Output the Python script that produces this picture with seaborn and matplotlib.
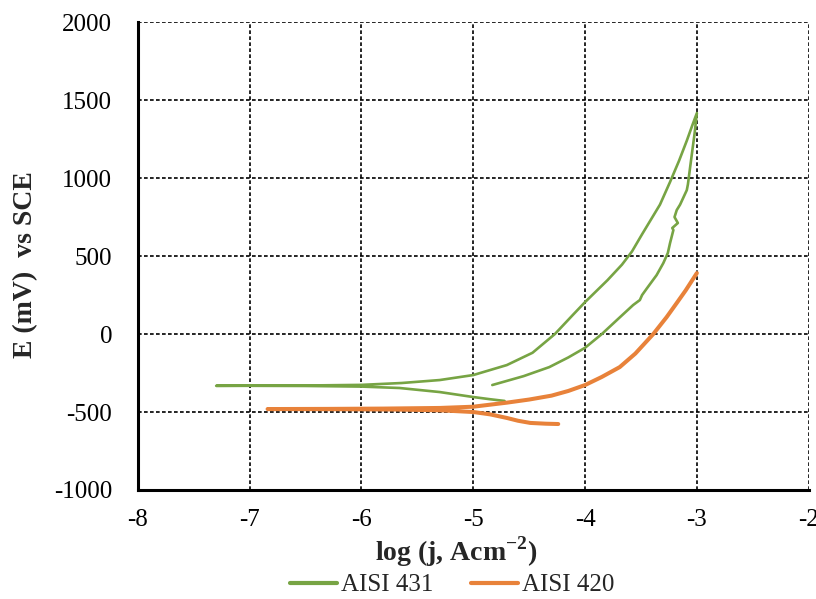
import numpy as np
import pandas as pd
import matplotlib
matplotlib.use("Agg")
import matplotlib.pyplot as plt
import seaborn as sns

# AISI 431 polarization curve (log j, E mV), traced in scan order
logj_431 = [-4.72, -4.85, -5.0, -5.3, -5.66, -6.0, -6.5, -7.0, -7.3,
            -7.0, -6.5, -6.0, -5.64, -5.3, -5.0, -4.7, -4.47, -4.27, -4.11, -4.0,
            -3.8, -3.67, -3.58, -3.49, -3.33, -3.24, -3.16, -3.09, -3.04, -3.0,
            -3.02, -3.06, -3.08, -3.09, -3.15, -3.18, -3.2, -3.17, -3.22, -3.21,
            -3.24, -3.26, -3.30, -3.36, -3.45, -3.49, -3.51, -3.57, -3.7, -3.85,
            -4.0, -4.15, -4.32, -4.55, -4.83]
E_431 = [-429, -418, -404, -372, -346, -337, -333, -332, -332,
         -331, -330, -326, -314, -295, -263, -199, -120, 0, 122, 205,
         345, 445, 530, 640, 830, 975, 1110, 1240, 1340, 1417,
         1288, 1071, 960, 923, 830, 795, 750, 712, 680, 667,
         583, 519, 455, 378, 290, 250, 218, 186, 100, 0,
         -88, -150, -212, -270, -327]

# AISI 420 polarization curve
logj_420 = [-4.24, -4.35, -4.49, -4.6, -4.7, -4.85, -5.0, -5.3, -5.7, -6.2, -6.84,
            -6.3, -5.8, -5.3, -5.0, -4.7, -4.5, -4.3, -4.15, -4.0, -3.85, -3.69,
            -3.55, -3.39, -3.27, -3.18, -3.1, -3.0]
E_420 = [-577, -575, -570, -556, -538, -515, -500, -489, -484, -482, -481,
         -480, -478, -474, -466, -440, -420, -395, -365, -327, -275, -212,
         -125, 0, 109, 199, 280, 391]

series = ["AISI 431", "AISI 420"]
colors = ["#77A444", "#E8823A"]

df = pd.concat([
    pd.DataFrame({"logj": logj_431, "E": E_431, "alloy": series[0]}),
    pd.DataFrame({"logj": logj_420, "E": E_420, "alloy": series[1]}),
])

sns.set_theme(style="white")
plt.rcParams["font.family"] = ["Liberation Serif", "DejaVu Serif"]
plt.rcParams["axes.unicode_minus"] = False
plt.rcParams["mathtext.fontset"] = "custom"
plt.rcParams["mathtext.rm"] = "Liberation Serif"
plt.rcParams["mathtext.bf"] = "Liberation Serif:bold"

fig = plt.figure(figsize=(8.16, 5.99), dpi=100)
ax = fig.add_axes([0.169, 0.182, 0.822, 0.781])

for name, col, lw in zip(series, colors, [1.9, 2.9]):
    sub = df[df["alloy"] == name]
    sns.lineplot(data=sub, x="logj", y="E", sort=False, estimator=None,
                 color=col, linewidth=lw, ax=ax, label=name, legend=False)

ax.set_xlim(-8, -2)
ax.set_ylim(-1000, 2000)
ax.set_xticks(np.arange(-8, -1, 1))
ax.set_yticks(np.arange(-1000, 2001, 500))
ax.grid(True, color="black", linestyle=(0, (2.2, 1.4)), linewidth=1.2)
ax.set_axisbelow(True)
for s in ["top", "right"]:
    ax.spines[s].set_visible(False)
for s in ["left", "bottom"]:
    ax.spines[s].set_color("black")
    ax.spines[s].set_linewidth(2.2)
ax.tick_params(axis="both", which="major", direction="out", length=4.5, width=2,
               color="black", labelsize=18, labelcolor="black")
ax.tick_params(axis="x", pad=9)
ax.tick_params(axis="y", pad=14)
ax.set_xlabel("log (j, Acm$^{\\mathbf{-2}}$)", fontsize=20, fontweight="bold")
ax.set_ylabel("E (mV)  vs SCE", fontsize=20, fontweight="bold")
ax.xaxis.set_label_coords(0.475, -0.094)
ax.yaxis.set_label_coords(-0.149, 0.481)

handles = ax.get_lines()[:2]
leg = fig.legend(handles, series, loc="center", bbox_to_anchor=(452 / 816, 1 - 585 / 599),
                 ncol=2, frameon=False, fontsize=18, handlelength=1.9,
                 columnspacing=1.5, handletextpad=0.15)
for line in leg.get_lines():
    line.set_linewidth(3)

fig.savefig("out.png", dpi=100)
